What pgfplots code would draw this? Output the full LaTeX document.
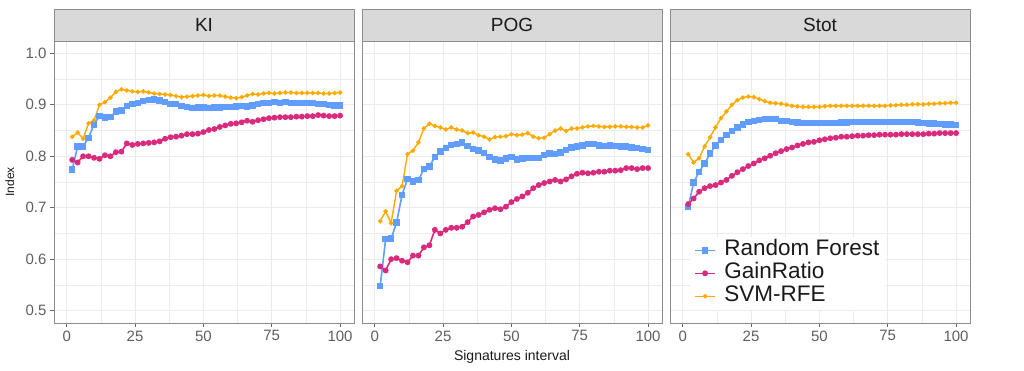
\documentclass[border=0pt]{standalone}
\usepackage{pgfplots}
\usepackage{pgfplotstable}
\pgfplotsset{compat=1.18}
\usepackage{fontspec}
\setmainfont{Liberation Sans}

\definecolor{rfc}{HTML}{619CFF}
\definecolor{grc}{HTML}{D92A7E}
\definecolor{svmc}{HTML}{FFAA00}
\definecolor{gridc}{HTML}{EBEBEB}
\definecolor{borderc}{HTML}{8C8C8C}
\definecolor{tickc}{HTML}{666666}
\definecolor{tickl}{HTML}{5E5E5E}
\definecolor{stripc}{HTML}{D9D9D9}
\definecolor{txtc}{HTML}{1A1A1A}

\pgfplotstableread{
x rf gr svm
2 0.774 0.793 0.838
4 0.819 0.788 0.846
6 0.819 0.800 0.834
8 0.836 0.800 0.864
10 0.862 0.797 0.870
12 0.878 0.795 0.900
14 0.875 0.802 0.905
16 0.876 0.800 0.914
18 0.887 0.808 0.925
20 0.889 0.809 0.930
22 0.898 0.825 0.928
24 0.901 0.822 0.926
26 0.904 0.824 0.925
28 0.907 0.825 0.926
30 0.909 0.826 0.924
32 0.910 0.827 0.922
34 0.908 0.829 0.921
36 0.905 0.834 0.920
38 0.902 0.837 0.919
40 0.901 0.838 0.917
42 0.898 0.840 0.915
44 0.896 0.843 0.916
46 0.894 0.843 0.917
48 0.895 0.844 0.918
50 0.895 0.847 0.919
52 0.894 0.851 0.917
54 0.895 0.853 0.918
56 0.895 0.857 0.918
58 0.896 0.860 0.916
60 0.896 0.863 0.914
62 0.897 0.864 0.913
64 0.898 0.866 0.915
66 0.897 0.869 0.918
68 0.899 0.867 0.921
70 0.901 0.870 0.920
72 0.903 0.872 0.922
74 0.904 0.874 0.923
76 0.905 0.875 0.922
78 0.904 0.876 0.923
80 0.906 0.876 0.924
82 0.904 0.876 0.924
84 0.903 0.877 0.923
86 0.903 0.877 0.923
88 0.904 0.878 0.923
90 0.903 0.878 0.923
92 0.902 0.880 0.923
94 0.901 0.879 0.922
96 0.900 0.878 0.922
98 0.899 0.878 0.923
100 0.899 0.879 0.924
}\kidata

\pgfplotstableread{
x rf gr svm
2 0.548 0.586 0.674
4 0.639 0.578 0.693
6 0.640 0.600 0.670
8 0.671 0.602 0.733
10 0.725 0.597 0.742
12 0.756 0.594 0.804
14 0.751 0.607 0.811
16 0.754 0.607 0.827
18 0.775 0.623 0.854
20 0.780 0.627 0.863
22 0.799 0.657 0.859
24 0.809 0.650 0.856
26 0.816 0.657 0.852
28 0.822 0.661 0.856
30 0.824 0.661 0.852
32 0.827 0.663 0.850
34 0.820 0.672 0.845
36 0.814 0.683 0.846
38 0.811 0.686 0.841
40 0.806 0.691 0.838
42 0.799 0.696 0.833
44 0.794 0.699 0.837
46 0.792 0.697 0.838
48 0.796 0.702 0.839
50 0.798 0.711 0.843
52 0.794 0.717 0.841
54 0.796 0.722 0.842
56 0.797 0.729 0.845
58 0.797 0.738 0.838
60 0.797 0.744 0.835
62 0.803 0.748 0.836
64 0.805 0.751 0.843
66 0.804 0.754 0.850
68 0.807 0.751 0.854
70 0.812 0.755 0.849
72 0.817 0.761 0.854
74 0.819 0.766 0.854
76 0.821 0.768 0.856
78 0.824 0.767 0.858
80 0.824 0.768 0.859
82 0.821 0.770 0.858
84 0.820 0.770 0.857
86 0.821 0.772 0.857
88 0.820 0.772 0.858
90 0.819 0.773 0.858
92 0.819 0.777 0.857
94 0.817 0.777 0.857
96 0.816 0.775 0.856
98 0.814 0.777 0.856
100 0.812 0.777 0.860
}\pogdata

\pgfplotstableread{
x rf gr svm
2 0.701 0.707 0.804
4 0.749 0.718 0.788
6 0.770 0.731 0.796
8 0.786 0.738 0.819
10 0.805 0.742 0.837
12 0.821 0.744 0.856
14 0.832 0.749 0.874
16 0.841 0.754 0.887
18 0.849 0.762 0.900
20 0.856 0.769 0.909
22 0.862 0.775 0.914
24 0.867 0.781 0.916
26 0.869 0.786 0.915
28 0.871 0.792 0.911
30 0.872 0.796 0.907
32 0.872 0.801 0.904
34 0.872 0.806 0.903
36 0.869 0.810 0.902
38 0.868 0.814 0.900
40 0.867 0.817 0.898
42 0.866 0.821 0.897
44 0.865 0.824 0.896
46 0.865 0.827 0.896
48 0.865 0.828 0.896
50 0.865 0.831 0.896
52 0.865 0.833 0.897
54 0.865 0.835 0.898
56 0.865 0.836 0.898
58 0.866 0.838 0.898
60 0.866 0.838 0.898
62 0.867 0.839 0.898
64 0.867 0.840 0.898
66 0.867 0.840 0.898
68 0.867 0.841 0.898
70 0.867 0.841 0.898
72 0.867 0.842 0.898
74 0.867 0.842 0.898
76 0.867 0.842 0.899
78 0.867 0.842 0.899
80 0.867 0.843 0.900
82 0.867 0.843 0.900
84 0.867 0.843 0.901
86 0.866 0.843 0.901
88 0.865 0.843 0.901
90 0.864 0.844 0.902
92 0.864 0.844 0.902
94 0.863 0.845 0.903
96 0.862 0.845 0.903
98 0.862 0.845 0.904
100 0.861 0.845 0.904
}\stotdata

\pgfplotsset{
  panel/.style={
    width=300pt, height=282pt, scale only axis,
    xmin=-4.65, xmax=105.1, ymin=0.476, ymax=1.024,
    xtick={0,25,50,75,100},
    ytick={0.5,0.6,0.7,0.8,0.9,1.0},
    minor xtick={12.5,37.5,62.5,87.5},
    minor ytick={0.55,0.65,0.75,0.85,0.95},
    grid=both,
    major grid style={color=gridc, line width=1pt},
    minor grid style={color=gridc, line width=0.6pt},
    axis line style={draw=borderc, line width=0.9pt},
    tick align=outside, major tick length=4pt, minor tick length=0pt,
    tick style={color=tickc, line width=0.8pt},
    xtick pos=lower, ytick pos=left,
    /pgf/number format/assume math mode=true,
    ticklabel style={font=\fontsize{15}{15}\selectfont, text=tickl},
    yticklabel style={/pgf/number format/.cd, fixed, fixed zerofill, precision=1},
    rfstyle/.style={color=rfc, line width=1.6pt, mark=square*, mark size=2.4pt, mark options={solid}},
    grstyle/.style={color=grc, line width=1.6pt, mark=*, mark size=2.1pt, mark options={solid}},
    svmstyle/.style={color=svmc, line width=1.4pt, mark=*, mark size=1.5pt, mark options={solid}},
    legend image code/.code={%
      \draw[#1] (0pt,0pt) -- (20pt,0pt);
      \draw[#1, only marks] plot coordinates {(10pt,0pt)};
    },
  },
}

\begin{document}
\begin{tikzpicture}
\useasboundingbox (0,0) rectangle (1024pt,370pt);

\begin{axis}[panel, name=ax1, at={(54pt,47pt)}, anchor=south west,
  ylabel={Index},
  ylabel style={font=\fontsize{12}{12}\selectfont, text=txtc, at={(axis description cs:-0.147,0.5)}, anchor=center}]
\addplot[rfstyle] table[x=x, y=rf] {\kidata};
\addplot[grstyle] table[x=x, y=gr] {\kidata};
\addplot[svmstyle] table[x=x, y=svm] {\kidata};
\end{axis}

\begin{axis}[panel, name=ax2, at={(362pt,47pt)}, anchor=south west,
  yticklabels={}, y tick style={draw=none},
  xlabel={Signatures interval},
  xlabel style={font=\fontsize{14}{14}\selectfont, text=txtc, at={(axis description cs:0.5,-0.121)}, anchor=center}]
\addplot[rfstyle] table[x=x, y=rf] {\pogdata};
\addplot[grstyle] table[x=x, y=gr] {\pogdata};
\addplot[svmstyle] table[x=x, y=svm] {\pogdata};
\end{axis}

\begin{axis}[panel, name=ax3, at={(670pt,47pt)}, anchor=south west,
  yticklabels={}, y tick style={draw=none},
  legend cell align=left,
  legend style={at={(0.067,0.046)}, anchor=south west, draw=none, fill=white,
    font=\fontsize{22.5}{22.5}\selectfont, text=txtc,
    nodes={text height=15pt, text depth=5pt, inner sep=1.5pt},
    /tikz/every odd column/.append style={column sep=7pt},
    inner xsep=4pt, inner ysep=2pt}]
\addplot[rfstyle] table[x=x, y=rf] {\stotdata};
\addlegendentry{Random Forest}
\addplot[grstyle] table[x=x, y=gr] {\stotdata};
\addlegendentry{GainRatio}
\addplot[svmstyle] table[x=x, y=svm] {\stotdata};
\addlegendentry{SVM-RFE}
\end{axis}

\foreach \a/\t in {ax1/KI, ax2/POG, ax3/Stot}{
  \draw[fill=stripc, draw=borderc, line width=0.9pt] (\a.north west) rectangle ([yshift=32pt]\a.north east);
  \node[font=\fontsize{19}{19}\selectfont, text=txtc] at ([yshift=16pt]\a.north) {\t};
}
\end{tikzpicture}
\end{document}
